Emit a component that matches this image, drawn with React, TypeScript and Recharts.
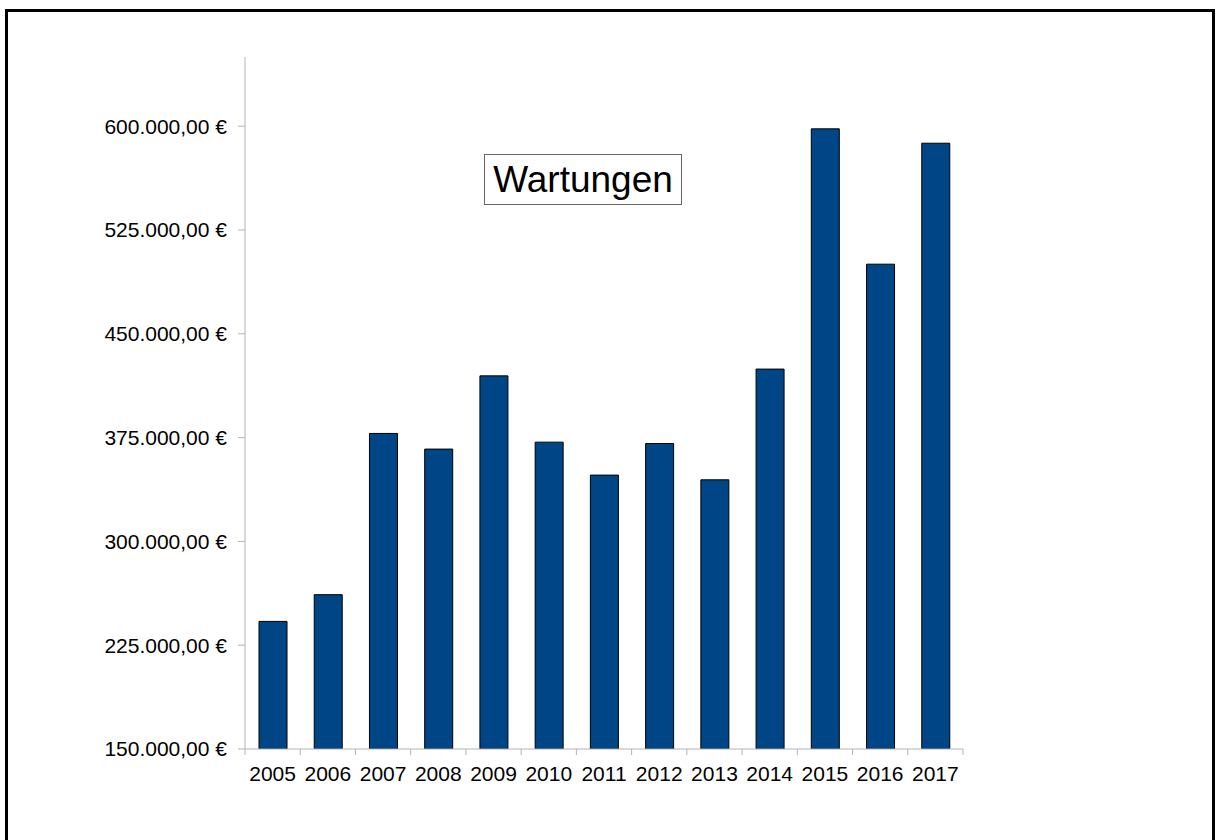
import React from 'react';
import { BarChart, Bar, XAxis, YAxis } from 'recharts';

const years = ['2005','2006','2007','2008','2009','2010','2011','2012','2013','2014','2015','2016','2017'];
const wartungen = [242200, 261500, 378000, 366700, 419600, 371700, 347900, 370700, 344500, 424500, 598100, 500300, 587700];
const yTicks = [150000, 225000, 300000, 375000, 450000, 525000, 600000];
const title = 'Wartungen';

const data = years.map((y, i) => ({ year: y, value: wartungen[i] }));

const fmt = (v: number) =>
  v.toLocaleString('de-DE', { minimumFractionDigits: 2, maximumFractionDigits: 2 }) + ' €';

const FONT = '"Liberation Sans", Arial, sans-serif';
const AXIS = '#b3b3b3';
const X_TICK_MARGIN = 17;
const X_TICK_LEN = 6;

function YearTick(props: any) {
  const { x, y, payload, index, visibleTicksCount } = props;
  const half = payload && typeof payload.offset === 'number' ? payload.offset : 0;
  const axisY = y - X_TICK_MARGIN;
  const isLast = index === (visibleTicksCount ?? years.length) - 1;
  return (
    <g>
      <line x1={x - half} x2={x - half} y1={axisY} y2={axisY + X_TICK_LEN} stroke={AXIS} strokeWidth={1} />
      {isLast && (
        <line x1={x + half} x2={x + half} y1={axisY} y2={axisY + X_TICK_LEN} stroke={AXIS} strokeWidth={1} />
      )}
      <text x={x} y={y} dy="0.71em" textAnchor="middle" fill="#000" fontSize={21} fontFamily={FONT}>
        {payload.value}
      </text>
    </g>
  );
}

export default function App() {
  return (
    <div style={{ position: 'absolute', left: 0, top: 0, width: 1219, height: 840, overflow: 'hidden', background: '#fff' }}>
      <div style={{ position: 'absolute', left: 5, top: 9, width: 1204, height: 900, border: '3px solid #000' }} />
      <div style={{ position: 'absolute', left: 0, top: 0 }}>
        <BarChart
          width={1219}
          height={840}
          data={data}
          margin={{ top: 57, right: 256, bottom: 41, left: 95 }}
          barSize={28}
        >
          <XAxis
            dataKey="year"
            height={50}
            stroke={AXIS}
            tickLine={false}
            tickSize={0}
            tickMargin={X_TICK_MARGIN}
            interval={0}
            tick={<YearTick />}
          />
          <YAxis
            width={150}
            domain={[150000, 650000]}
            ticks={yTicks}
            allowDataOverflow
            stroke={AXIS}
            tickSize={7}
            tickMargin={11}
            tickFormatter={fmt}
            tick={{ fill: '#000', fontSize: 21, fontFamily: FONT }}
          />
          <Bar dataKey="value" fill="#004586" stroke="#000" strokeWidth={1} isAnimationActive={false} />
        </BarChart>
      </div>
      <div
        style={{
          position: 'absolute',
          left: 484,
          top: 154,
          width: 196,
          height: 49,
          border: '1px solid #666',
          fontFamily: FONT,
          fontSize: 37,
          lineHeight: '49px',
          textAlign: 'center',
          color: '#000',
          background: '#fff',
        }}
      >
        {title}
      </div>
    </div>
  );
}
